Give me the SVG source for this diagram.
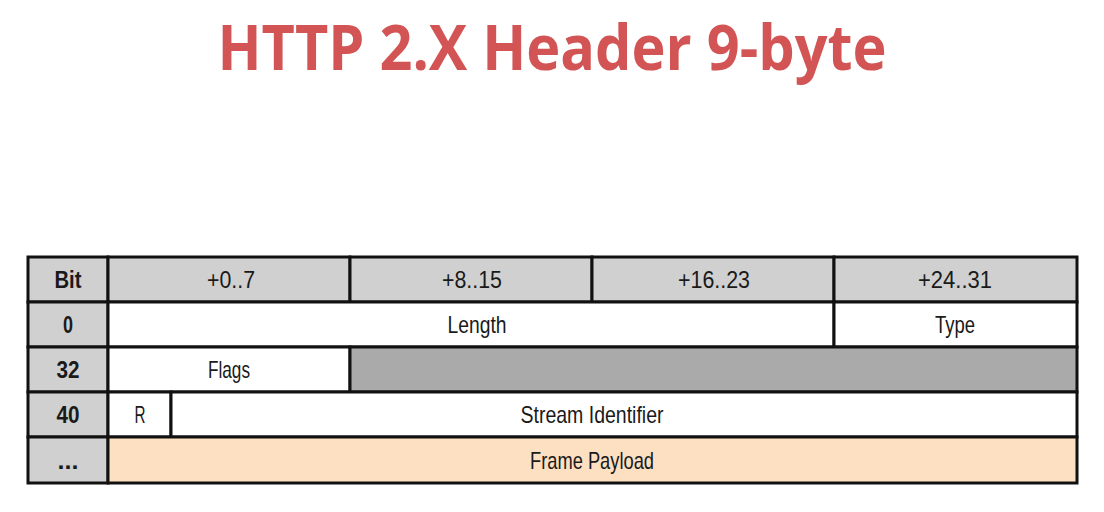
<svg xmlns="http://www.w3.org/2000/svg" width="1104" height="512" viewBox="0 0 1104 512">
  <style>
    .title { font-family: "Open Sans", "Liberation Sans", sans-serif; font-weight: 700; font-size: 62px; fill: #d35454; }
    .cell { stroke: #111; stroke-width: 3; }
    .hd { fill: #d0d0d0; }
    .wh { fill: #ffffff; }
    .dk { fill: #aaaaaa; }
    .pl { fill: #fde0c2; }
    .t { font-family: "Liberation Sans", "Open Sans", sans-serif; font-size: 24px; fill: #1a1a1a; text-anchor: middle; }
    .b { font-weight: 700; }
  </style>
  <rect width="1104" height="512" fill="#ffffff"/>
  <text class="title" x="552" y="70" text-anchor="middle" textLength="669" lengthAdjust="spacingAndGlyphs">HTTP 2.X Header 9-byte</text>

  <!-- header row -->
  <g id="row-head">
    <rect class="cell hd" x="28" y="257" width="80" height="45"/>
    <rect class="cell hd" x="108" y="257" width="242" height="45"/>
    <rect class="cell hd" x="350" y="257" width="242" height="45"/>
    <rect class="cell hd" x="592" y="257" width="242" height="45"/>
    <rect class="cell hd" x="834" y="257" width="243" height="45"/>
    <text class="t b" x="68" y="288" textLength="27" lengthAdjust="spacingAndGlyphs">Bit</text>
    <text class="t" x="231" y="288" textLength="48" lengthAdjust="spacingAndGlyphs">+0..7</text>
    <text class="t" x="472" y="288" textLength="60" lengthAdjust="spacingAndGlyphs">+8..15</text>
    <text class="t" x="714" y="288" textLength="72" lengthAdjust="spacingAndGlyphs">+16..23</text>
    <text class="t" x="955" y="288" textLength="74" lengthAdjust="spacingAndGlyphs">+24..31</text>
  </g>

  <!-- row 0 -->
  <g id="row-0">
    <rect class="cell hd" x="28" y="302" width="80" height="45"/>
    <rect class="cell wh" x="108" y="302" width="726" height="45"/>
    <rect class="cell wh" x="834" y="302" width="243" height="45"/>
    <text class="t b" x="68" y="333" textLength="10" lengthAdjust="spacingAndGlyphs">0</text>
    <text class="t" x="477" y="333" textLength="59" lengthAdjust="spacingAndGlyphs">Length</text>
    <text class="t" x="955" y="333" textLength="40" lengthAdjust="spacingAndGlyphs">Type</text>
  </g>

  <!-- row 32 -->
  <g id="row-32">
    <rect class="cell hd" x="28" y="347" width="80" height="45"/>
    <rect class="cell wh" x="108" y="347" width="242" height="45"/>
    <rect class="cell dk" x="350" y="347" width="727" height="45"/>
    <text class="t b" x="68" y="378" textLength="23" lengthAdjust="spacingAndGlyphs">32</text>
    <text class="t" x="229" y="378" textLength="42" lengthAdjust="spacingAndGlyphs">Flags</text>
  </g>

  <!-- row 40 -->
  <g id="row-40">
    <rect class="cell hd" x="28" y="392" width="80" height="45"/>
    <rect class="cell wh" x="108" y="392" width="63" height="45"/>
    <rect class="cell wh" x="171" y="392" width="906" height="45"/>
    <text class="t b" x="68" y="423" textLength="23" lengthAdjust="spacingAndGlyphs">40</text>
    <text class="t" x="140" y="423" textLength="11" lengthAdjust="spacingAndGlyphs">R</text>
    <text class="t" x="592" y="423" textLength="143" lengthAdjust="spacingAndGlyphs">Stream Identifier</text>
  </g>

  <!-- payload row -->
  <g id="row-payload">
    <rect class="cell hd" x="28" y="437" width="80" height="46"/>
    <rect class="cell pl" x="108" y="437" width="969" height="46"/>
    <text class="t b" x="68" y="469" textLength="21" lengthAdjust="spacingAndGlyphs">...</text>
    <text class="t" x="592" y="469" textLength="124" lengthAdjust="spacingAndGlyphs">Frame Payload</text>
  </g>
</svg>
